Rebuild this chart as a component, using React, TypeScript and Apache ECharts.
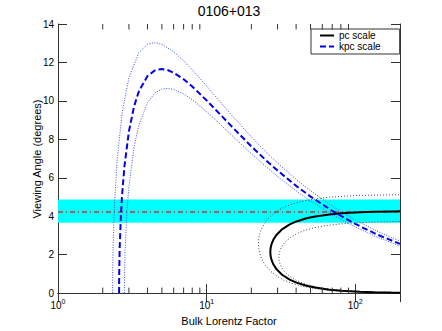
import React, { useEffect, useRef } from "react";
import * as echarts from "echarts";

const FONT = "Liberation Sans, Arial, Helvetica, sans-serif";

// Axis ranges / ticks
const X_MIN = 1;
const X_MAX = 200;
const Y_MIN = 0;
const Y_MAX = 14;
const Y_STEP = 2;
const minorTickValues = [2, 3, 4, 5, 6, 7, 8, 9, 20, 30, 40, 50, 60, 70, 80, 90];

// Shaded band and reference viewing angle
const bandRange = [3.66, 4.87];
const refAngle = 4.22;

// pc scale (black): nose Gamma, upper and lower branches
const pcGamma = [26.82, 26.95, 27.36, 28.16, 29.5, 32.18, 36.21, 40.23, 46.93, 53.64, 67.05, 80.46, 107.3, 134.1, 174.3, 200];
const pcUpper = [2.137, 2.35, 2.558, 2.788, 3.027, 3.318, 3.572, 3.729, 3.89, 3.987, 4.095, 4.151, 4.206, 4.23, 4.248, 4.254];
const pcLower = [2.137, 1.924, 1.716, 1.486, 1.247, 0.956, 0.702, 0.545, 0.384, 0.287, 0.179, 0.123, 0.068, 0.044, 0.026, 0.02];

const pcOuterGamma = [22.32, 22.43, 22.77, 23.44, 24.55, 26.79, 30.14, 33.48, 39.06, 44.64, 55.81, 66.97, 89.29, 111.6, 145.1, 200];
const pcOuterUpper = [2.568, 2.823, 3.073, 3.35, 3.637, 3.986, 4.292, 4.481, 4.674, 4.79, 4.92, 4.988, 5.053, 5.083, 5.104, 5.118];
const pcOuterLower = [2.568, 2.312, 2.062, 1.785, 1.498, 1.149, 0.843, 0.654, 0.461, 0.345, 0.215, 0.148, 0.082, 0.053, 0.032, 0.017];

const pcInnerGamma = [30.62, 30.77, 31.23, 32.15, 33.68, 36.74, 41.33, 45.92, 53.58, 61.23, 76.54, 91.85, 122.5, 153.1, 200];
const pcInnerUpper = [1.872, 2.058, 2.241, 2.442, 2.651, 2.906, 3.129, 3.267, 3.408, 3.492, 3.587, 3.636, 3.684, 3.705, 3.721];
const pcInnerLower = [1.872, 1.685, 1.503, 1.301, 1.092, 0.837, 0.615, 0.477, 0.336, 0.251, 0.157, 0.107, 0.06, 0.038, 0.023];

// kpc scale (blue)
const kpcGamma = [2.576, 2.58, 2.6, 2.65, 2.7, 2.8, 3, 3.25, 3.5, 4, 4.5, 4.95, 5.5, 6, 7, 8, 10, 12, 15, 20, 25, 30, 40, 50, 70, 100, 140, 200];
const kpcAngle = [0, 0.967, 2.351, 4.04, 5.12, 6.605, 8.414, 9.716, 10.496, 11.294, 11.593, 11.655, 11.594, 11.467, 11.126, 10.749, 10.024, 9.392, 8.609, 7.632, 6.921, 6.374, 5.581, 5.023, 4.276, 3.597, 3.051, 2.559];

const kpcHiGamma = [2.33, 2.335, 2.35, 2.4, 2.5, 2.7, 3, 3.5, 4, 4.435, 5, 6, 7, 8, 10, 12, 15, 20, 25, 30, 40, 50, 70, 100, 140, 200];
const kpcHiAngle = [0, 1.258, 2.543, 4.663, 6.935, 9.37, 11.204, 12.506, 12.947, 13.031, 12.942, 12.559, 12.088, 11.622, 10.772, 10.057, 9.19, 8.124, 7.354, 6.766, 5.916, 5.322, 4.527, 3.805, 3.226, 2.706];

const kpcLoGamma = [2.797, 2.8, 2.82, 2.9, 3, 3.25, 3.5, 4, 4.5, 5, 5.41, 6, 7, 8, 10, 12, 15, 20, 25, 30, 40, 50, 70, 100, 140, 200];
const kpcLoAngle = [0, 0.677, 1.986, 4.102, 5.552, 7.601, 8.74, 9.913, 10.418, 10.614, 10.652, 10.598, 10.364, 10.063, 9.439, 8.873, 8.158, 7.253, 6.586, 6.071, 5.321, 4.793, 4.083, 3.436, 2.916, 2.447];

function zipXY(xs: number[], ys: number[]) {
  return xs.map((x, i) => [x, ys[i]]);
}
function loop(xs: number[], upper: number[], lower: number[]) {
  const low = zipXY(xs, lower).reverse();
  const up = zipXY(xs, upper).slice(1);
  return low.concat(up);
}

export default function App() {
  const ref = useRef<HTMLDivElement>(null);

  useEffect(() => {
    if (!ref.current) return;
    const chart = echarts.init(ref.current, null, { renderer: "svg" });
    const axisColor = "#333";
    const gridBox = { left: 58, top: 24, right: 42, bottom: 37 };

    const xLabelFormatter = (v: number) => {
      const e = Math.round(Math.log10(v));
      if (Math.abs(Math.pow(10, e) - v) > 1e-6) return "";
      return `{b|10}{s|${e}}`;
    };

    const option: any = {
      animation: false,
      backgroundColor: "#fff",
      textStyle: { fontFamily: FONT },
      title: {
        text: "0106+013",
        left: 229,
        textAlign: "center",
        top: 4,
        padding: 0,
        textStyle: { fontFamily: FONT, fontSize: 14, fontWeight: "normal", color: "#000" },
      },
      graphic: [
        {
          type: "text",
          x: 37,
          y: 159,
          rotation: Math.PI / 2,
          silent: true,
          style: {
            text: "Viewing Angle (degrees)",
            fontFamily: FONT,
            fontSize: 11,
            fill: "#000",
            textAlign: "center",
            textVerticalAlign: "middle",
          },
        },
      ],
      legend: {
        orient: "vertical",
        left: 311,
        top: 29,
        data: ["pc scale", "kpc scale"],
        itemWidth: 14,
        itemHeight: 8,
        itemGap: 0,
        padding: [1, 19, 2, 8],
        borderColor: "#333",
        borderWidth: 1,
        borderRadius: 0,
        backgroundColor: "#fff",
        itemStyle: { opacity: 0 },
        textStyle: { fontFamily: FONT, fontSize: 10, color: "#000", lineHeight: 11 },
      },
      grid: { ...gridBox, containLabel: false },
      xAxis: [
        {
          type: "log",
          logBase: 10,
          min: X_MIN,
          max: X_MAX,
          name: "Bulk Lorentz Factor",
          nameLocation: "middle",
          nameGap: 21,
          nameTextStyle: { fontFamily: FONT, fontSize: 11, color: "#000" },
          axisLine: { show: true, lineStyle: { color: axisColor, width: 1 } },
          axisTick: { show: true, inside: true, length: 9, lineStyle: { color: axisColor } },
          splitLine: { show: false },
          minorTick: { show: false },
          axisLabel: {
            show: true,
            margin: 5,
            showMaxLabel: false,
            formatter: xLabelFormatter,
            rich: {
              b: { fontFamily: FONT, fontSize: 10, lineHeight: 14, color: "#000" },
              s: { fontFamily: FONT, fontSize: 7, lineHeight: 8, verticalAlign: "top", color: "#000" },
            },
          },
        },
        {
          type: "log",
          logBase: 10,
          min: X_MIN,
          max: X_MAX,
          position: "top",
          axisLine: { show: true, lineStyle: { color: axisColor, width: 1 } },
          axisTick: { show: true, inside: true, length: 9, lineStyle: { color: axisColor } },
          axisLabel: { show: false },
          splitLine: { show: false },
        },
      ],
      yAxis: [
        {
          type: "value",
          min: Y_MIN,
          max: Y_MAX,
          interval: Y_STEP,
          axisLine: { show: true, lineStyle: { color: axisColor, width: 1 } },
          axisTick: { show: true, inside: true, length: 9, lineStyle: { color: axisColor } },
          axisLabel: { show: true, margin: 4, fontFamily: FONT, fontSize: 10, color: "#000" },
          splitLine: { show: false },
        },
        {
          type: "value",
          min: Y_MIN,
          max: Y_MAX,
          interval: Y_STEP,
          position: "right",
          axisLine: { show: true, lineStyle: { color: axisColor, width: 1 } },
          axisTick: { show: true, inside: true, length: 9, lineStyle: { color: axisColor } },
          axisLabel: { show: false },
          splitLine: { show: false },
        },
      ],
      series: [
        {
          name: "reference",
          type: "line",
          z: 3,
          symbol: "none",
          data: [[X_MIN, refAngle], [X_MAX, refAngle]],
          lineStyle: { color: "#cc3333", width: 1.5, type: [5, 3, 1, 3] },
          markArea: {
            silent: true,
            itemStyle: { color: "#00ffff", opacity: 1 },
            data: [[{ yAxis: bandRange[0] }, { yAxis: bandRange[1] }]],
          },
        },
        {
          name: "pc outer",
          type: "line",
          z: 4,
          symbol: "none",
          data: loop(pcOuterGamma, pcOuterUpper, pcOuterLower),
          lineStyle: { color: "#444", width: 1, type: [1, 2] },
        },
        {
          name: "pc inner",
          type: "line",
          z: 4,
          symbol: "none",
          data: loop(pcInnerGamma, pcInnerUpper, pcInnerLower),
          lineStyle: { color: "#444", width: 1, type: [1, 2] },
        },
        {
          name: "kpc upper",
          type: "line",
          z: 4,
          symbol: "none",
          data: zipXY(kpcHiGamma, kpcHiAngle),
          lineStyle: { color: "#3a4cff", width: 1, type: [1, 1.5] },
        },
        {
          name: "kpc lower",
          type: "line",
          z: 4,
          symbol: "none",
          data: zipXY(kpcLoGamma, kpcLoAngle),
          lineStyle: { color: "#3a4cff", width: 1, type: [1, 1.5] },
        },
        {
          name: "pc scale",
          type: "line",
          z: 5,
          symbol: "none",
          data: loop(pcGamma, pcUpper, pcLower),
          lineStyle: { color: "#000", width: 2, type: "solid" },
          itemStyle: { color: "#000" },
        },
        {
          name: "kpc scale",
          type: "line",
          z: 5,
          symbol: "none",
          data: zipXY(kpcGamma, kpcAngle),
          lineStyle: { color: "#0000ee", width: 2, type: [6, 3] },
          itemStyle: { color: "#0000ee" },
        },
        {
          name: "minor ticks",
          type: "custom",
          z: 6,
          silent: true,
          data: minorTickValues.map((v) => [v, 0]),
          encode: { x: 0, y: 1 },
          renderItem: (params: any, api: any) => {
            const cs = params.coordSys;
            const x = api.coord([api.value(0), 0])[0];
            const style = { stroke: axisColor, lineWidth: 1 };
            return {
              type: "group",
              children: [
                { type: "line", shape: { x1: x, y1: cs.y + cs.height, x2: x, y2: cs.y + cs.height - 5.5 }, style },
                { type: "line", shape: { x1: x, y1: cs.y, x2: x, y2: cs.y + 5.5 }, style },
              ],
            };
          },
        },
      ],
    };

    chart.setOption(option);
    return () => chart.dispose();
  }, []);

  return (
    <div
      ref={ref}
      style={{ position: "absolute", left: 0, top: 0, width: 442, height: 331, background: "#fff" }}
    />
  );
}
